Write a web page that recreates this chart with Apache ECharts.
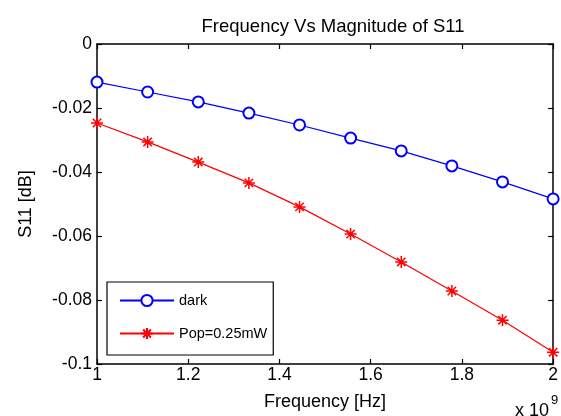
<!DOCTYPE html>
<html>
<head>
<meta charset="utf-8">
<script src="https://cdn.jsdelivr.net/npm/echarts@6/dist/echarts.min.js"></script>
<style>html,body{margin:0;padding:0;background:#fff;}#c{width:561px;height:416px;}</style>
</head>
<body>
<div id="c"></div>
<script>
var freq = [1, 1.111, 1.222, 1.333, 1.444, 1.556, 1.667, 1.778, 1.889, 2];
var dark = [-0.0119, -0.0150, -0.0181, -0.0216, -0.0253, -0.0294, -0.0334, -0.0381, -0.0431, -0.0484];
var pop = [-0.0247, -0.0306, -0.0369, -0.0434, -0.0509, -0.0594, -0.0681, -0.0772, -0.0863, -0.0963];
var seriesNames = ['dark', 'Pop=0.25mW'];
var xTicks = [1, 1.2, 1.4, 1.6, 1.8, 2];
var yTicks = [0, -0.02, -0.04, -0.06, -0.08, -0.1];

var FONT = 'Liberation Sans, Arial, sans-serif';
var star = 'path://M0 5 L10 5 M5 0 L5 10 M1.5 1.5 L8.5 8.5 M8.5 1.5 L1.5 8.5';

function pairs(xs, ys) { return xs.map(function (x, i) { return [x, ys[i]]; }); }

var chart = echarts.init(document.getElementById('c'), null, {renderer: 'canvas'});
var axisLine = {show: true, onZero: false, lineStyle: {color: '#000', width: 1.5}};
var tick = {show: true, inside: true, length: 5, lineStyle: {color: '#000', width: 1.2}};
chart.setOption({
  animation: false,
  backgroundColor: '#fff',
  title: {
    text: 'Frequency Vs Magnitude of S11',
    left: 328, top: 12, textAlign: 'center',
    textStyle: {fontFamily: FONT, fontSize: 18.5, fontWeight: 'normal', color: '#000'}
  },
  grid: {left: 97, right: 3, top: 44, bottom: 52},
  legend: {
    orient: 'vertical', left: 107, top: 282,
    data: seriesNames,
    backgroundColor: '#fff', borderColor: '#000', borderWidth: 1.2,
    padding: [11, 6, 14, 12], itemGap: 18, itemWidth: 54, itemHeight: 14,
    textStyle: {fontFamily: FONT, fontSize: 14.5, color: '#000'}
  },
  xAxis: [{
    type: 'value', min: 1, max: 2, interval: 0.2,
    name: 'Frequency [Hz]', nameLocation: 'middle', nameGap: 29,
    nameTextStyle: {fontFamily: FONT, fontSize: 18, color: '#000'},
    axisLine: axisLine, axisTick: tick, splitLine: {show: false},
    axisLabel: {margin: 2, fontFamily: FONT, fontSize: 17.5, color: '#000',
      formatter: function (v) { return String(+(+v).toFixed(1)); }}
  }, {
    type: 'value', position: 'top', min: 1, max: 2, interval: 0.2,
    axisLine: axisLine, axisTick: tick, splitLine: {show: false}, axisLabel: {show: false}
  }],
  yAxis: [{
    type: 'value', min: -0.1, max: 0, interval: 0.02,
    name: 'S11 [dB]', nameLocation: 'middle', nameGap: 62, nameRotate: 90,
    nameTextStyle: {fontFamily: FONT, fontSize: 18, color: '#000'},
    axisLine: axisLine, axisTick: tick, splitLine: {show: false},
    axisLabel: {margin: 5, fontFamily: FONT, fontSize: 17.5, color: '#000',
      formatter: function (v) { return String(+(+v).toFixed(2)); }}
  }, {
    type: 'value', position: 'right', min: -0.1, max: 0, interval: 0.02,
    axisLine: axisLine, axisTick: tick, splitLine: {show: false}, axisLabel: {show: false}
  }],
  graphic: [
    {type: 'text', left: 515, top: 402, style: {text: 'x 10', font: '18px ' + FONT, fill: '#000'}},
    {type: 'text', left: 551, top: 394, style: {text: '9', font: '13px ' + FONT, fill: '#000'}}
  ],
  series: [{
    name: seriesNames[0], type: 'line', data: pairs(freq, dark),
    symbol: 'emptyCircle', symbolSize: 11, showAllSymbol: true,
    lineStyle: {color: '#0000ff', width: 1.2},
    itemStyle: {color: '#0000ff', borderColor: '#0000ff', borderWidth: 1.3}
  }, {
    name: seriesNames[1], type: 'line', data: pairs(freq, pop),
    symbol: star, symbolSize: 12, showAllSymbol: true,
    lineStyle: {color: '#ff0000', width: 1.2},
    itemStyle: {color: '#ff0000', borderColor: '#ff0000', borderWidth: 1.5}
  }]
});
</script>
</body>
</html>
